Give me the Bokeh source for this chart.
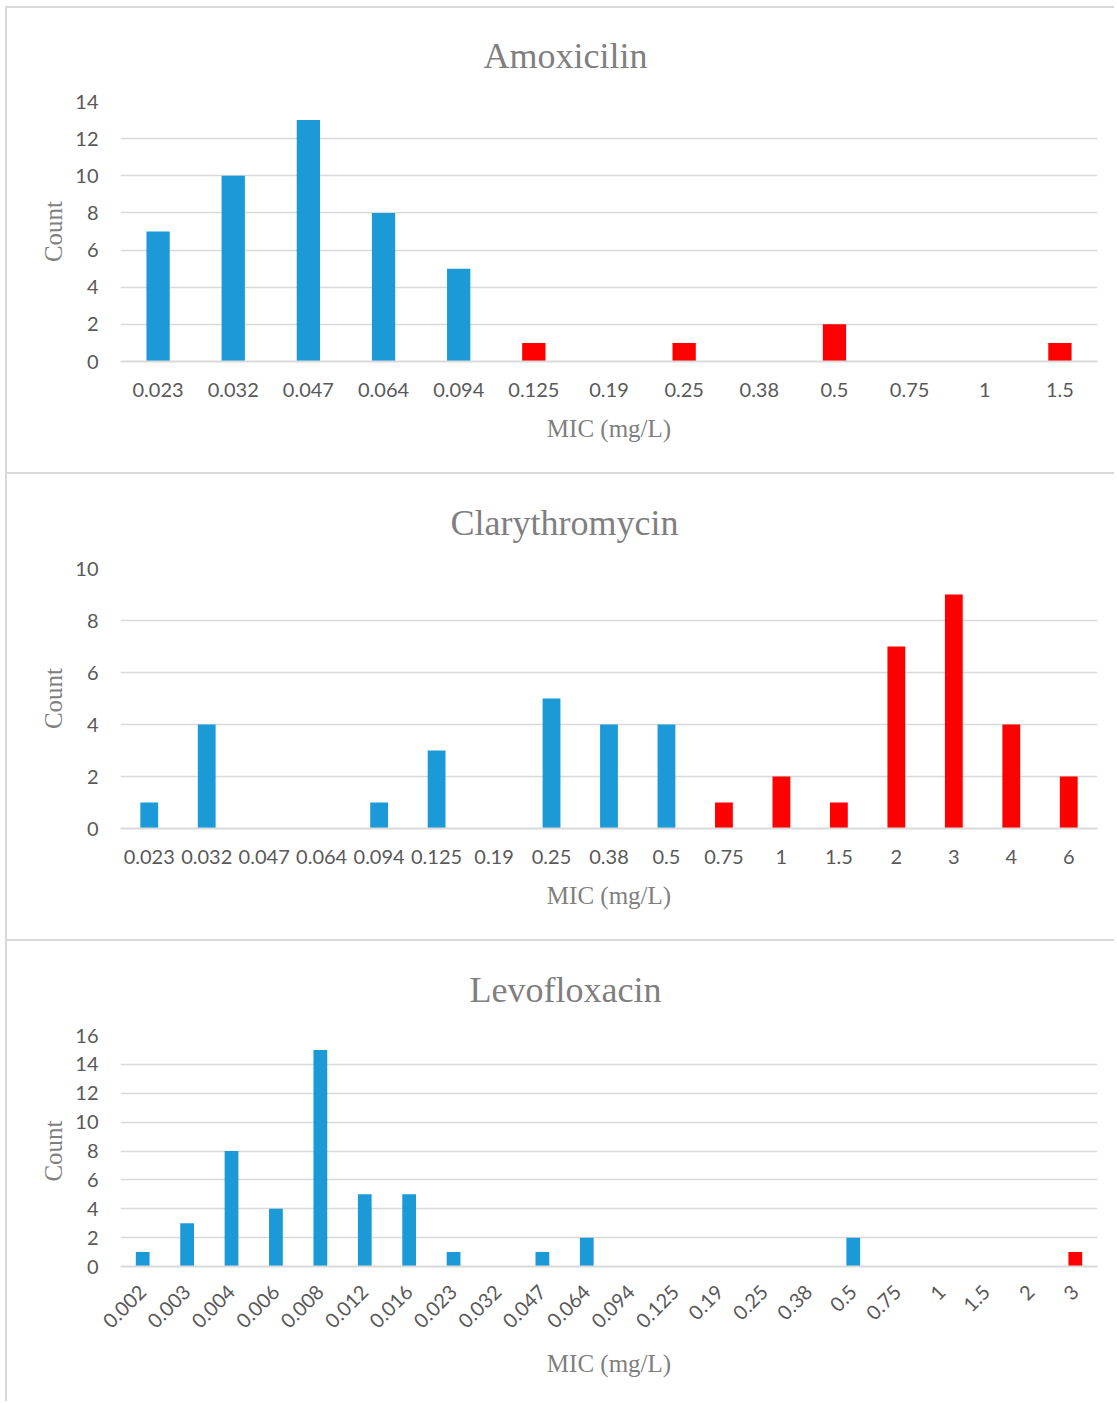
import math
from bokeh.plotting import figure
from bokeh.models import Range1d, FixedTicker, ColumnDataSource
from bokeh.layouts import column
from bokeh.embed import file_html
from bokeh.resources import INLINE

# ---------------- data ----------------
amox_mic = ["0.023", "0.032", "0.047", "0.064", "0.094", "0.125", "0.19",
            "0.25", "0.38", "0.5", "0.75", "1", "1.5"]
amox_count = [7, 10, 13, 8, 5, 1, 0, 1, 0, 2, 0, 0, 1]
amox_resistant_from = "0.125"

clar_mic = ["0.023", "0.032", "0.047", "0.064", "0.094", "0.125", "0.19",
            "0.25", "0.38", "0.5", "0.75", "1", "1.5", "2", "3", "4", "6"]
clar_count = [1, 4, 0, 0, 1, 3, 0, 5, 4, 4, 1, 2, 1, 7, 9, 4, 2]
clar_resistant_from = "0.75"

levo_mic = ["0.002", "0.003", "0.004", "0.006", "0.008", "0.012", "0.016",
            "0.023", "0.032", "0.047", "0.064", "0.094", "0.125", "0.19",
            "0.25", "0.38", "0.5", "0.75", "1", "1.5", "2", "3"]
levo_count = [1, 3, 8, 4, 15, 5, 5, 1, 0, 1, 2, 0, 0, 0, 0, 0, 2, 0, 0, 0, 0, 1]
levo_resistant_from = "3"

BLUE = "#1b9ad7"
RED = "#ff0000"
GRID = "#d9d9d9"
W = 1109


def panel(title, title_left, mics, counts, res_from, ymax, height, top, bottom, rotate=False):
    cut = mics.index(res_from)
    colors = [BLUE if i < cut else RED for i in range(len(mics))]
    src = ColumnDataSource(dict(mic=mics, count=counts, color=colors))
    p = figure(x_range=mics, y_range=Range1d(0, ymax), width=W, height=height,
               output_backend="svg", toolbar_location=None,
               min_border_left=113, min_border_right=19,
               min_border_top=top, min_border_bottom=bottom,
               outline_line_color=None,
               styles={"border-top": "2px solid #d9d9d9",
                       "border-left": "2px solid #d9d9d9"})
    p.vbar(x="mic", top="count", width=0.31, fill_color="color",
           line_color=None, source=src)

    p.title.text = title
    p.title.text_font = "Liberation Serif"
    p.title.text_font_size = "36px"
    p.title.text_font_style = "normal"
    p.title.text_color = "#7f7f7f"
    p.title.align = "left"
    p.title.vertical_align = "top"
    p.title.offset = title_left
    p.title.standoff = 48

    p.xgrid.grid_line_color = None
    p.ygrid.grid_line_color = GRID
    p.ygrid.grid_line_width = 1.5

    y = p.yaxis[0]
    y.ticker = FixedTicker(ticks=list(range(0, ymax + 1, 2)))
    y.axis_line_color = None
    y.major_tick_line_color = None
    y.minor_tick_line_color = None
    y.major_tick_out = 0
    y.major_label_standoff = 22
    y.major_label_text_font = "Lato"
    y.major_label_text_font_size = "20px"
    y.major_label_text_color = "#595959"
    y.axis_label = "Count"
    y.axis_label_text_font = "Liberation Serif"
    y.axis_label_text_font_size = "25px"
    y.axis_label_text_font_style = "normal"
    y.axis_label_text_color = "#7f7f7f"
    y.axis_label_standoff = 5

    x = p.xaxis[0]
    x.axis_line_color = GRID
    x.axis_line_width = 2
    x.major_tick_line_color = None
    x.minor_tick_line_color = None
    x.major_tick_out = 0
    x.major_label_standoff = 21
    x.major_label_text_font = "Lato"
    x.major_label_text_font_size = "20px"
    x.major_label_text_color = "#595959"
    x.axis_label = "MIC (mg/L)"
    x.axis_label_text_font = "Liberation Serif"
    x.axis_label_text_font_size = "25px"
    x.axis_label_text_font_style = "normal"
    x.axis_label_text_color = "#7f7f7f"
    x.axis_label_standoff = 15
    if rotate:
        x.major_label_orientation = math.pi / 4
        x.major_label_standoff = 22
        x.axis_label_standoff = 12
    return p


p1 = panel("Amoxicilin", 363, amox_mic, amox_count, amox_resistant_from, 14, 466, 93, 113)
p2 = panel("Clarythromycin", 330, clar_mic, clar_count, clar_resistant_from, 10, 467, 94, 113)
p3 = panel("Levofloxacin", 349, levo_mic, levo_count, levo_resistant_from, 16, 462, 94, 137, rotate=True)

layout = column(p1, p2, p3, spacing=0,
                styles={"margin-left": "5px", "margin-top": "6px"})
open("out.html", "w").write(file_html(layout, INLINE))
